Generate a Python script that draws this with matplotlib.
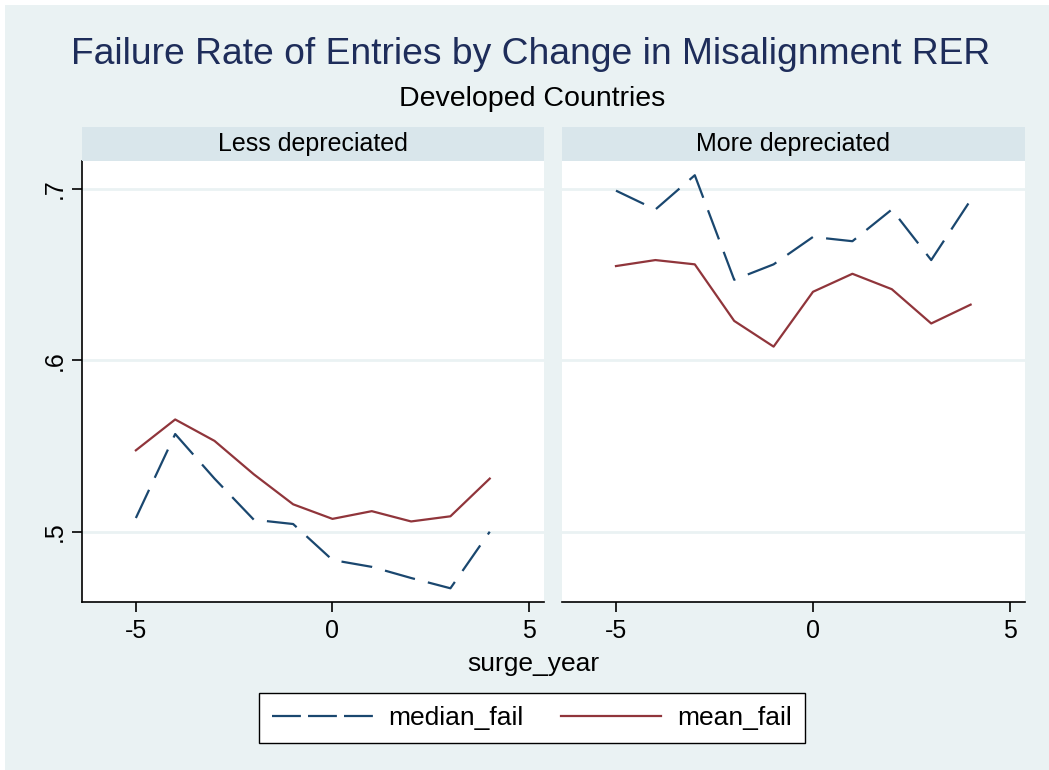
import matplotlib

matplotlib.use("Agg")
import matplotlib.pyplot as plt
from matplotlib.lines import Line2D
from matplotlib.patches import Rectangle

plt.rcParams["font.family"] = ["Liberation Sans", "DejaVu Sans"]

W, H = 1049, 770

surge_year = [-5, -4, -3, -2, -1, 0, 1, 2, 3, 4]
panels = ["Less depreciated", "More depreciated"]
median_fail = {
    "Less depreciated": [0.508, 0.557, 0.531, 0.507, 0.5045, 0.4835, 0.4795, 0.473, 0.467, 0.500],
    "More depreciated": [0.699, 0.688, 0.708, 0.647, 0.656, 0.672, 0.6695, 0.688, 0.6585, 0.6935],
}
mean_fail = {
    "Less depreciated": [0.5475, 0.5655, 0.553, 0.5335, 0.516, 0.5075, 0.512, 0.506, 0.509, 0.531],
    "More depreciated": [0.655, 0.6585, 0.656, 0.623, 0.608, 0.640, 0.6505, 0.6415, 0.6215, 0.6325],
}
yticks = [0.5, 0.6, 0.7]
ytick_labels = [".5", ".6", ".7"]
xticks = [-5, 0, 5]

BG = "#EAF2F3"
STRIP = "#D9E6EB"
NAVY = "#1A476F"
MAROON = "#90353B"
TITLE_C = "#1E2D5A"
FS = 19


def px_box(x0, y0, x1, y1):
    # pixel box (top-left origin) -> figure fraction [left, bottom, width, height]
    return [x0 / W, 1 - y1 / H, (x1 - x0) / W, (y1 - y0) / H]


fig = plt.figure(figsize=(W / 100, H / 100), dpi=100, facecolor=BG)
# thin white border on top and left, as in the Stata export
fig.patches.append(Rectangle((0, 1 - 5 / H), 1, 5 / H, transform=fig.transFigure,
                             facecolor="white", edgecolor="none", zorder=-5))
fig.patches.append(Rectangle((0, 0), 5 / W, 1, transform=fig.transFigure,
                             facecolor="white", edgecolor="none", zorder=-5))

fig.text(531 / W, 1 - 55 / H, "Failure Rate of Entries by Change in Misalignment RER",
         ha="center", va="center", fontsize=26.8, color=TITLE_C)
fig.text(532 / W, 1 - 99 / H, "Developed Countries", ha="center", va="center",
         fontsize=20.5, color="black")

boxes = [(82, 161, 544, 602), (562, 161, 1025, 602)]
for i, (name, box) in enumerate(zip(panels, boxes)):
    ax = fig.add_axes(px_box(*box))
    ax.set_facecolor("white")
    ax.set_xlim(-6.37, 5.38)
    ax.set_ylim(0.459, 0.7163)
    for y in yticks:
        ax.axhline(y, color=BG, lw=2, zorder=1)
    ax.plot(surge_year, median_fail[name], color=NAVY, lw=1.6, dashes=(14, 6), zorder=3)
    ax.plot(surge_year, mean_fail[name], color=MAROON, lw=1.6, zorder=3)
    for s in ("top", "right"):
        ax.spines[s].set_visible(False)
    ax.spines["bottom"].set_linewidth(1.2)
    ax.set_xticks(xticks)
    ax.set_xticklabels([str(t) for t in xticks])
    ax.tick_params(axis="x", length=7, width=1.2, labelsize=18, pad=5)
    if i == 0:
        ax.spines["left"].set_linewidth(1.2)
        ax.set_yticks(yticks)
        ax.set_yticklabels(ytick_labels, rotation=90, va="center")
        ax.tick_params(axis="y", length=7, width=1.2, labelsize=18, pad=4)
    else:
        ax.spines["left"].set_visible(False)
        ax.set_yticks([])
    # panel strip
    sx0, sy0, sx1, _ = box
    sax = fig.add_axes(px_box(sx0, 127, sx1, 161))
    sax.set_facecolor(STRIP)
    sax.set_xticks([])
    sax.set_yticks([])
    for s in sax.spines.values():
        s.set_visible(False)
    sax.text(0.5, 0.5, name, ha="center", va="center", fontsize=18, transform=sax.transAxes)

fig.text(533 / W, 1 - 664 / H, "surge_year", ha="center", va="center", fontsize=FS)

handles = [
    Line2D([], [], color=NAVY, lw=1.6, dashes=(13, 3.2)),
    Line2D([], [], color=MAROON, lw=1.6),
]
leg = fig.legend(handles, ["median_fail", "mean_fail"], loc="center",
                 bbox_to_anchor=(532 / W, 1 - 718 / H), ncol=2, fontsize=FS,
                 frameon=True, fancybox=False, handlelength=3.8, handletextpad=0.6,
                 columnspacing=1.4, borderpad=0.5, framealpha=1)
leg.get_frame().set_edgecolor("black")
leg.get_frame().set_linewidth(1.0)

fig.savefig("out.png", dpi=100, facecolor=fig.get_facecolor())
